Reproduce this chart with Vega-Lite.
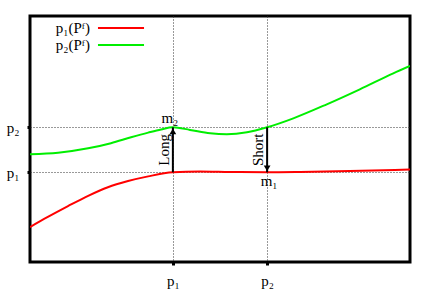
{
  "$schema": "https://vega.github.io/schema/vega-lite/v6.json",
  "width": 380,
  "height": 246,
  "autosize": "none",
  "padding": {"left": 30, "top": 16, "right": 26, "bottom": 28},
  "background": "white",
  "config": {
    "view": {"stroke": "black", "strokeWidth": 3},
    "font": "Liberation Serif",
    "axis": {"labelFont": "Liberation Serif", "labelFontSize": 15, "labelColor": "black"}
  },
  "datasets": {
    "curves": [
      {"x": 0, "y": 14.2, "s": "p₁(Pᶠ)"},
      {"x": 4.7, "y": 18.3, "s": "p₁(Pᶠ)"},
      {"x": 10.0, "y": 22.7, "s": "p₁(Pᶠ)"},
      {"x": 15.3, "y": 26.9, "s": "p₁(Pᶠ)"},
      {"x": 20.5, "y": 30.4, "s": "p₁(Pᶠ)"},
      {"x": 25.8, "y": 32.9, "s": "p₁(Pᶠ)"},
      {"x": 31.1, "y": 34.8, "s": "p₁(Pᶠ)"},
      {"x": 37.6, "y": 36.46, "s": "p₁(Pᶠ)"},
      {"x": 44.7, "y": 36.8, "s": "p₁(Pᶠ)"},
      {"x": 52.6, "y": 36.6, "s": "p₁(Pᶠ)"},
      {"x": 62.4, "y": 36.46, "s": "p₁(Pᶠ)"},
      {"x": 71.1, "y": 36.6, "s": "p₁(Pᶠ)"},
      {"x": 84.2, "y": 37.0, "s": "p₁(Pᶠ)"},
      {"x": 100, "y": 37.6, "s": "p₁(Pᶠ)"},
      {"x": 0, "y": 43.8, "s": "p₂(Pᶠ)"},
      {"x": 7.4, "y": 44.4, "s": "p₂(Pᶠ)"},
      {"x": 15.3, "y": 46.2, "s": "p₂(Pᶠ)"},
      {"x": 21.3, "y": 48.3, "s": "p₂(Pᶠ)"},
      {"x": 26.6, "y": 50.7, "s": "p₂(Pᶠ)"},
      {"x": 31.1, "y": 52.6, "s": "p₂(Pᶠ)"},
      {"x": 34.5, "y": 53.9, "s": "p₂(Pᶠ)"},
      {"x": 37.6, "y": 54.76, "s": "p₂(Pᶠ)"},
      {"x": 42.1, "y": 53.7, "s": "p₂(Pᶠ)"},
      {"x": 47.4, "y": 52.3, "s": "p₂(Pᶠ)"},
      {"x": 51.8, "y": 51.9, "s": "p₂(Pᶠ)"},
      {"x": 57.1, "y": 52.7, "s": "p₂(Pᶠ)"},
      {"x": 62.4, "y": 54.76, "s": "p₂(Pᶠ)"},
      {"x": 69.3, "y": 58.4, "s": "p₂(Pᶠ)"},
      {"x": 78.1, "y": 64.1, "s": "p₂(Pᶠ)"},
      {"x": 86.8, "y": 70.2, "s": "p₂(Pᶠ)"},
      {"x": 95.6, "y": 76.7, "s": "p₂(Pᶠ)"},
      {"x": 100, "y": 79.7, "s": "p₂(Pᶠ)"}
    ],
    "arrows": [
      {"x": 37.6, "y1": 36.46, "y2": 54.76, "label": "Long", "dir": "up"},
      {"x": 62.4, "y1": 54.76, "y2": 36.46, "label": "Short", "dir": "down"}
    ]
  },
  "layer": [
    {
      "data": {"name": "curves"},
      "mark": {"type": "line", "interpolate": "monotone", "strokeWidth": 2, "clip": true},
      "encoding": {
        "x": {
          "field": "x", "type": "quantitative",
          "scale": {"domain": [0, 100], "nice": false, "zero": false},
          "axis": {
            "title": null, "values": [37.6, 62.4],
            "labelExpr": "datum.value < 50 ? 'p₁' : 'p₂'",
            "grid": true, "gridDash": [1, 2], "gridColor": "#333", "gridWidth": 1,
            "domain": false, "tickColor": "black", "tickSize": 3, "tickWidth": 3,
            "labelPadding": 8
          }
        },
        "y": {
          "field": "y", "type": "quantitative",
          "scale": {"domain": [0, 100], "nice": false, "zero": false},
          "axis": {
            "title": null, "values": [36.46, 54.76],
            "labelExpr": "datum.value < 45 ? 'p₁' : 'p₂'",
            "grid": true, "gridDash": [1, 2], "gridColor": "#333", "gridWidth": 1,
            "domain": false, "tickColor": "black", "tickSize": 3, "tickWidth": 3,
            "labelPadding": 8
          }
        },
        "color": {
          "field": "s", "type": "nominal",
          "scale": {"domain": ["p₁(Pᶠ)", "p₂(Pᶠ)"], "range": ["#ff0000", "#00ee00"]},
          "legend": {
            "title": null, "orient": "none", "legendX": 82.5, "legendY": 3.5,
            "symbolType": "M-3.07,0H3.07", "symbolSize": 225, "symbolStrokeWidth": 2,
            "symbolFillColor": "transparent",
            "labelAlign": "right", "labelOffset": -39.5, "labelFontSize": 15,
            "labelFont": "Liberation Serif", "padding": 0, "rowPadding": 0
          }
        }
      }
    },
    {
      "data": {"name": "arrows"},
      "mark": {"type": "rule", "strokeWidth": 2, "color": "black"},
      "encoding": {
        "x": {"field": "x", "type": "quantitative"},
        "y": {"field": "y1", "type": "quantitative"},
        "y2": {"field": "y2"}
      }
    },
    {
      "data": {"name": "arrows"},
      "transform": [{"filter": "datum.dir == 'up'"}],
      "mark": {"type": "point", "shape": "triangle-up", "filled": true, "color": "black", "size": 45, "opacity": 1, "yOffset": 4},
      "encoding": {
        "x": {"field": "x", "type": "quantitative"},
        "y": {"field": "y2", "type": "quantitative"}
      }
    },
    {
      "data": {"name": "arrows"},
      "transform": [{"filter": "datum.dir == 'down'"}],
      "mark": {"type": "point", "shape": "triangle-down", "filled": true, "color": "black", "size": 45, "opacity": 1, "yOffset": -4},
      "encoding": {
        "x": {"field": "x", "type": "quantitative"},
        "y": {"field": "y2", "type": "quantitative"}
      }
    },
    {
      "data": {"name": "arrows"},
      "mark": {"type": "text", "angle": 270, "fontSize": 15, "font": "Liberation Serif", "dy": -9, "align": "center", "baseline": "middle"},
      "encoding": {
        "x": {"field": "x", "type": "quantitative"},
        "y": {"datum": 45.6, "type": "quantitative"},
        "text": {"field": "label"}
      }
    },
    {
      "data": {"values": [{"x": 37.6, "y": 54.76, "t": "m₂"}]},
      "mark": {"type": "text", "fontSize": 15, "font": "Liberation Serif", "align": "center", "baseline": "alphabetic", "dy": -4, "dx": -3},
      "encoding": {
        "x": {"field": "x", "type": "quantitative"},
        "y": {"field": "y", "type": "quantitative"},
        "text": {"field": "t"}
      }
    },
    {
      "data": {"values": [{"x": 62.4, "y": 36.46, "t": "m₁"}]},
      "mark": {"type": "text", "fontSize": 15, "font": "Liberation Serif", "align": "center", "baseline": "top", "dy": 2, "dx": 2},
      "encoding": {
        "x": {"field": "x", "type": "quantitative"},
        "y": {"field": "y", "type": "quantitative"},
        "text": {"field": "t"}
      }
    }
  ]
}
